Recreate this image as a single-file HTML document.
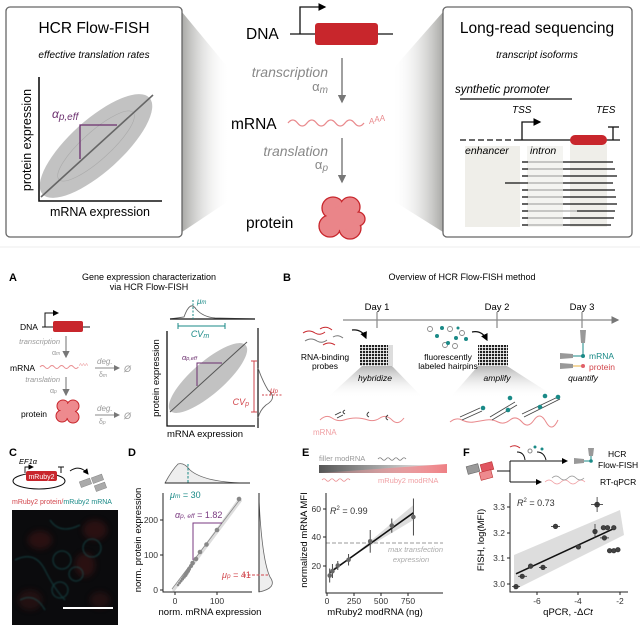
<!DOCTYPE html>
<html><head><meta charset="utf-8"><style>
html,body{margin:0;padding:0;background:#fff;}
svg{display:block;font-family:"Liberation Sans",sans-serif;}
.it{font-style:italic;}
</style></head><body>
<svg width="640" height="626" viewBox="0 0 640 626" xmlns="http://www.w3.org/2000/svg">
<defs>
<linearGradient id="wl" x1="0" x2="1" y1="0" y2="0"><stop offset="0" stop-color="#a9a9a6"/><stop offset="1" stop-color="#fff" stop-opacity="0"/></linearGradient>
<linearGradient id="wr" x1="1" x2="0" y1="0" y2="0"><stop offset="0" stop-color="#a9a9a6"/><stop offset="1" stop-color="#fff" stop-opacity="0"/></linearGradient>
<linearGradient id="wd" x1="0" x2="0" y1="0" y2="1"><stop offset="0" stop-color="#b5b5b5"/><stop offset="1" stop-color="#fff" stop-opacity="0"/></linearGradient>
<linearGradient id="gbar" x1="0" x2="1"><stop offset="0" stop-color="#555"/><stop offset="1" stop-color="#fff"/></linearGradient>
<linearGradient id="rbar" x1="0" x2="1"><stop offset="0" stop-color="#f3a6a8" stop-opacity="0.2"/><stop offset="1" stop-color="#ee7f84"/></linearGradient>
<marker id="ah" markerWidth="6" markerHeight="6" refX="5" refY="3" orient="auto"><path d="M0,0 L6,3 L0,6 z" fill="#777"/></marker>
<marker id="ak" markerWidth="6" markerHeight="6" refX="5" refY="3" orient="auto"><path d="M0,0 L6,3 L0,6 z" fill="#000"/></marker>
<pattern id="grid" width="3" height="3" patternUnits="userSpaceOnUse"><rect width="3" height="3" fill="#fff"/><rect width="2.2" height="2.2" fill="#222"/></pattern>
<filter id="bl"><feGaussianBlur stdDeviation="3"/></filter>
<filter id="bl2"><feGaussianBlur stdDeviation="0.8"/></filter>
</defs>

<polygon points="182,12 230,70 230,200 182,232" fill="url(#wl)"/>
<polygon points="443,12 392,70 392,200 443,232" fill="url(#wr)"/>

<rect x="6" y="7" width="176" height="230" rx="4" fill="#fff" stroke="#666" stroke-width="1.3"/>
<text x="94" y="33" font-size="15.5" text-anchor="middle">HCR Flow-FISH</text>
<text x="94" y="58" font-size="10" text-anchor="middle" class="it">effective translation rates</text>
<ellipse cx="96" cy="146" rx="72" ry="26" transform="rotate(-42 96 146)" fill="#c2c2c2"/>
<ellipse cx="96" cy="146" rx="50" ry="14" transform="rotate(-42 96 146)" fill="none" stroke="#aaa" stroke-width="0.6"/>
<line x1="41" y1="197" x2="153" y2="95" stroke="#666" stroke-width="1.6"/>
<polyline points="80,159 80,125 117,125" fill="none" stroke="#6b2f6e" stroke-width="1.3"/>
<text x="52" y="118" font-size="12" fill="#6b2f6e" class="it">α<tspan font-size="10" dy="2">p,eff</tspan></text>
<polyline points="39,77 39,201 162,201" fill="none" stroke="#111" stroke-width="1.6"/>
<text transform="translate(31,140) rotate(-90)" font-size="12.5" text-anchor="middle">protein expression</text>
<text x="100" y="216" font-size="12.5" text-anchor="middle">mRNA expression</text>

<text x="246" y="39" font-size="15.5">DNA</text>
<line x1="290" y1="34" x2="393" y2="34" stroke="#111" stroke-width="1.3"/>
<polyline points="300,34 300,7 325,7" fill="none" stroke="#111" stroke-width="1.3" marker-end="url(#ak)"/>
<rect x="315" y="23" width="63" height="22" rx="3" fill="#c8262c"/>
<line x1="342" y1="58" x2="342" y2="102" stroke="#777" stroke-width="1.4" marker-end="url(#ah)"/>
<text x="328" y="77" font-size="14" fill="#888" text-anchor="end" class="it">transcription</text>
<text x="328" y="91" font-size="13" fill="#888" text-anchor="end">α<tspan font-size="10" dy="2" class="it">m</tspan></text>
<text x="231" y="129" font-size="15.5">mRNA</text>
<path d="M288,123 q4.75,-6 9.5,0 t9.5,0 t9.5,0 t9.5,0 t9.5,0 t9.5,0 t9.5,0 t9.5,0" fill="none" stroke="#e98a8d" stroke-width="1.3"/>
<text x="369" y="124" font-size="8" fill="#e98a8d">A<tspan dy="-2">A</tspan><tspan dy="-1">A</tspan></text>
<line x1="342" y1="138" x2="342" y2="182" stroke="#777" stroke-width="1.4" marker-end="url(#ah)"/>
<text x="328" y="156" font-size="14" fill="#888" text-anchor="end" class="it">translation</text>
<text x="328" y="169" font-size="13" fill="#888" text-anchor="end">α<tspan font-size="10" dy="2" class="it">p</tspan></text>
<text x="246" y="228" font-size="15.5">protein</text>
<g fill="#ea8589" stroke="#c8262c" stroke-width="1.3">
<circle cx="333" cy="208" r="11"/><circle cx="350" cy="207" r="10"/><circle cx="330" cy="226" r="11"/><circle cx="350" cy="228" r="11"/><circle cx="358" cy="219" r="7"/>
</g>
<g fill="#ea8589"><circle cx="333" cy="208" r="10"/><circle cx="350" cy="207" r="9"/><circle cx="330" cy="226" r="10"/><circle cx="350" cy="228" r="10"/><circle cx="358" cy="219" r="6"/><circle cx="342" cy="218" r="12"/></g>

<rect x="443" y="7" width="189" height="230" rx="4" fill="#fff" stroke="#666" stroke-width="1.3"/>
<text x="537" y="33" font-size="15.5" text-anchor="middle">Long-read sequencing</text>
<text x="537" y="58" font-size="10" text-anchor="middle" class="it">transcript isoforms</text>
<text x="455" y="93" font-size="11.5" class="it">synthetic promoter</text>
<line x1="460" y1="99" x2="572" y2="99" stroke="#111" stroke-width="1.3"/>
<rect x="465" y="146" width="55" height="81" fill="#efeee9"/>
<rect x="527" y="146" width="36" height="81" fill="#f4f4f1"/>
<rect x="570" y="144" width="37" height="83" fill="#efeee9"/>
<text x="512" y="113" font-size="10" class="it">TSS</text>
<text x="596" y="113" font-size="10" class="it">TES</text>
<line x1="460" y1="140" x2="520" y2="140" stroke="#111" stroke-width="1.3" stroke-dasharray="6,3"/>
<line x1="520" y1="140" x2="620" y2="140" stroke="#111" stroke-width="1.3"/>
<polyline points="522,140 522,122 540,122" fill="none" stroke="#111" stroke-width="1.3" marker-end="url(#ak)"/>
<rect x="570" y="135" width="37" height="10" rx="5" fill="#c8262c"/>
<polyline points="613,140 613,127" fill="none" stroke="#111" stroke-width="1.3"/>
<line x1="608" y1="127" x2="619" y2="127" stroke="#111" stroke-width="1.3"/>
<text x="465" y="154" font-size="10.5" class="it">enhancer</text>
<text x="530" y="154" font-size="10.5" class="it">intron</text>
<g stroke-width="1.3">
<g stroke="#111"><line x1="522" y1="162" x2="528" y2="162"/><line x1="522" y1="169" x2="528" y2="169"/><line x1="522" y1="176" x2="528" y2="176"/><line x1="505" y1="183" x2="528" y2="183"/><line x1="522" y1="190" x2="528" y2="190"/><line x1="522" y1="197" x2="528" y2="197"/><line x1="522" y1="204" x2="528" y2="204"/><line x1="522" y1="211" x2="528" y2="211"/><line x1="522" y1="218" x2="528" y2="218"/><line x1="522" y1="225" x2="528" y2="225"/></g>
<g stroke="#aaa"><line x1="528" y1="162" x2="563" y2="162"/><line x1="528" y1="169" x2="563" y2="169"/><line x1="528" y1="176" x2="563" y2="176"/><line x1="528" y1="183" x2="563" y2="183"/><line x1="528" y1="190" x2="563" y2="190"/><line x1="528" y1="197" x2="563" y2="197"/><line x1="528" y1="204" x2="563" y2="204"/><line x1="528" y1="211" x2="577" y2="211"/><line x1="528" y1="218" x2="563" y2="218"/><line x1="528" y1="225" x2="563" y2="225"/></g>
<g stroke="#111"><line x1="563" y1="162" x2="613" y2="162"/><line x1="563" y1="169" x2="615" y2="169"/><line x1="563" y1="176" x2="617" y2="176"/><line x1="563" y1="183" x2="613" y2="183"/><line x1="563" y1="190" x2="615" y2="190"/><line x1="563" y1="197" x2="616" y2="197"/><line x1="563" y1="204" x2="617" y2="204"/><line x1="577" y1="211" x2="615" y2="211"/><line x1="563" y1="218" x2="614" y2="218"/><line x1="563" y1="225" x2="611" y2="225"/></g>
</g>

<line x1="0" y1="247" x2="640" y2="247" stroke="#eee" stroke-width="1"/>

<text x="9" y="281" font-size="11" font-weight="bold">A</text>
<text x="149" y="280" font-size="9" text-anchor="middle">Gene expression characterization</text>
<text x="149" y="290" font-size="9" text-anchor="middle">via HCR Flow-FISH</text>
<text x="20" y="330" font-size="8.5">DNA</text>
<line x1="42" y1="327" x2="90" y2="327" stroke="#111" stroke-width="1"/>
<polyline points="45,327 45,313 58,313" fill="none" stroke="#111" stroke-width="1" marker-end="url(#ak)"/>
<rect x="53" y="321" width="30" height="11" rx="2" fill="#c8262c"/>
<line x1="66" y1="336" x2="66" y2="357" stroke="#888" stroke-width="1.2" marker-end="url(#ah)"/>
<text x="60" y="344" font-size="7.5" fill="#999" text-anchor="end" class="it">transcription</text>
<text x="52" y="355" font-size="7" fill="#999">α<tspan font-size="5" class="it">m</tspan></text>
<text x="10" y="371" font-size="8.5">mRNA</text>
<path d="M40,367 q2.4,-3 4.8,0 t4.8,0 t4.8,0 t4.8,0 t4.8,0 t4.8,0 t4.8,0 t4.8,0" fill="none" stroke="#e98a8d" stroke-width="1"/>
<text x="79" y="366" font-size="4.5" fill="#e98a8d">AAA</text>
<text x="97" y="364" font-size="8" fill="#999" class="it">deg.</text>
<line x1="95" y1="368" x2="119" y2="368" stroke="#888" stroke-width="1" marker-end="url(#ah)"/>
<text x="124" y="372" font-size="9" fill="#999" class="it">Ø</text>
<text x="99" y="377" font-size="7" fill="#999">δ<tspan font-size="5" class="it">m</tspan></text>
<text x="60" y="382" font-size="7.5" fill="#999" text-anchor="end" class="it">translation</text>
<text x="50" y="393" font-size="7" fill="#999">α<tspan font-size="5" class="it">p</tspan></text>
<line x1="66" y1="377" x2="66" y2="395" stroke="#888" stroke-width="1.2" marker-end="url(#ah)"/>
<text x="21" y="417" font-size="8.5">protein</text>
<g fill="#ee8a8e" stroke="#c8262c" stroke-width="1"><circle cx="63" cy="406" r="6"/><circle cx="73" cy="406" r="6"/><circle cx="62" cy="416" r="6"/><circle cx="73" cy="417" r="6"/></g>
<g fill="#ee8a8e"><circle cx="63" cy="406" r="5"/><circle cx="73" cy="406" r="5"/><circle cx="62" cy="416" r="5"/><circle cx="73" cy="417" r="5"/><circle cx="68" cy="411" r="7"/></g>
<text x="97" y="411" font-size="8" fill="#999" class="it">deg.</text>
<line x1="95" y1="415" x2="119" y2="415" stroke="#888" stroke-width="1" marker-end="url(#ah)"/>
<text x="124" y="419" font-size="9" fill="#999" class="it">Ø</text>
<text x="99" y="424" font-size="7" fill="#999">δ<tspan font-size="5" class="it">p</tspan></text>
<path d="M170,319 L184,317 Q190,300 196,309 Q203,317 215,318 L255,319" fill="none" stroke="#666" stroke-width="0.9"/>
<line x1="170" y1="319" x2="255" y2="319" stroke="#111" stroke-width="1.2"/>
<line x1="193" y1="300" x2="193" y2="319" stroke="#1a8a87" stroke-width="1" stroke-dasharray="2,1.5"/>
<text x="197" y="304" font-size="8" fill="#1a8a87" class="it">μ<tspan font-size="6">m</tspan></text>
<line x1="178" y1="326" x2="225" y2="326" stroke="#1a8a87" stroke-width="1"/>
<line x1="178" y1="323" x2="178" y2="329" stroke="#1a8a87"/><line x1="225" y1="323" x2="225" y2="329" stroke="#1a8a87"/>
<text x="200" y="337" font-size="9" fill="#1a8a87" text-anchor="middle" class="it">CV<tspan font-size="7" dy="1">m</tspan></text>
<ellipse cx="208" cy="378" rx="50" ry="16" transform="rotate(-41 208 378)" fill="#c2c2c2"/>
<line x1="170" y1="412" x2="247" y2="342" stroke="#555" stroke-width="1"/>
<polyline points="197,386 197,363 222,363" fill="none" stroke="#6b2f6e" stroke-width="1"/>
<text x="182" y="360" font-size="7.5" fill="#6b2f6e" class="it">α<tspan font-size="5.5">p,eff</tspan></text>
<polyline points="167,331 167,426 255,426" fill="none" stroke="#111" stroke-width="1.3"/>
<text transform="translate(159,378) rotate(-90)" font-size="9.5" text-anchor="middle">protein expression</text>
<text x="205" y="437" font-size="9.5" text-anchor="middle">mRNA expression</text>
<line x1="258" y1="328" x2="258" y2="428" stroke="#111" stroke-width="1.2"/>
<path d="M258,368 Q262,380 268,390 Q278,398 266,405 Q260,410 258,418" fill="none" stroke="#666" stroke-width="0.9"/>
<line x1="254" y1="361" x2="254" y2="412" stroke="#d2464c" stroke-width="1"/>
<line x1="251" y1="361" x2="257" y2="361" stroke="#d2464c"/><line x1="251" y1="412" x2="257" y2="412" stroke="#d2464c"/>
<text x="249" y="405" font-size="9" fill="#d2464c" text-anchor="end" class="it">CV<tspan font-size="7" dy="1">p</tspan></text>
<line x1="262" y1="395" x2="283" y2="395" stroke="#d2464c" stroke-width="0.9" stroke-dasharray="2,1.5"/>
<text x="270" y="393" font-size="8.5" fill="#d2464c" class="it">μ<tspan font-size="6">p</tspan></text>

<text x="283" y="281" font-size="11" font-weight="bold">B</text>
<text x="462" y="280" font-size="9" text-anchor="middle">Overview of HCR Flow-FISH method</text>
<line x1="343" y1="320" x2="618" y2="320" stroke="#888" stroke-width="1.3" marker-end="url(#ah)"/>
<g stroke="#888" stroke-width="1.2"><line x1="377" y1="312" x2="377" y2="328"/><line x1="497" y1="312" x2="497" y2="328"/><line x1="582" y1="312" x2="582" y2="328"/></g>
<g font-size="9.5" text-anchor="middle"><text x="377" y="310">Day 1</text><text x="497" y="310">Day 2</text><text x="582" y="310">Day 3</text></g>
<polygon points="362,366 392,366 423,398 327,398" fill="url(#wd)"/>
<polygon points="478,366 507,366 557,398 450,398" fill="url(#wd)"/>
<g fill="none" stroke-width="1"><path d="M303,333 q6,-4 12,0 q5,3 10,-1" stroke="#c8262c"/><path d="M305,341 q6,-4 12,0 q5,3 10,-1" stroke="#777"/><path d="M320,329 q6,-4 12,1" stroke="#c8262c"/><path d="M323,345 q6,-4 12,0" stroke="#c8262c"/><path d="M333,337 q5,-3 10,1" stroke="#777"/></g>
<path d="M352,330 Q362,329 366,338" fill="none" stroke="#111" stroke-width="1.2" marker-end="url(#ak)"/>
<rect x="360" y="345" width="33" height="21" fill="#ddd"/>
<rect x="360" y="345" width="28" height="21" fill="url(#grid)"/>
<text x="325" y="360" font-size="8.5" text-anchor="middle">RNA-binding</text>
<text x="325" y="369" font-size="8.5" text-anchor="middle">probes</text>
<text x="375" y="381" font-size="8.5" text-anchor="middle" class="it">hybridize</text>
<g stroke="#888" fill="none" stroke-width="0.9"><circle cx="430" cy="329" r="2.5"/><circle cx="445" cy="345" r="2.5"/><circle cx="462" cy="333" r="2.5"/><circle cx="450" cy="329" r="2.5"/><circle cx="455" cy="346" r="2.5"/></g>
<g fill="#1a8a87"><circle cx="442" cy="328" r="2"/><circle cx="437" cy="336" r="2"/><circle cx="448" cy="343" r="2"/><circle cx="456" cy="338" r="2"/><circle cx="466" cy="339" r="2"/><circle cx="458" cy="328" r="1.5"/></g>
<path d="M472,332 Q482,330 487,340" fill="none" stroke="#111" stroke-width="1.2" marker-end="url(#ak)"/>
<rect x="478" y="345" width="30" height="21" fill="url(#grid)"/>
<text x="448" y="360" font-size="8.5" text-anchor="middle">fluorescently</text>
<text x="448" y="369" font-size="8.5" text-anchor="middle">labeled hairpins</text>
<text x="497" y="381" font-size="8.5" text-anchor="middle" class="it">amplify</text>
<path d="M580,330 L586,330 L585,343 L581,343 Z" fill="#999"/>
<line x1="583" y1="343" x2="583" y2="356" stroke="#1a8a87" stroke-width="1"/>
<path d="M560,353 L573,354 L573,358 L560,359 Z" fill="#999"/><path d="M560,363 L573,364 L573,368 L560,369 Z" fill="#999"/>
<line x1="573" y1="356" x2="583" y2="356" stroke="#1a8a87"/><line x1="573" y1="366" x2="583" y2="366" stroke="#e8b040"/>
<circle cx="583" cy="356" r="2" fill="#1a8a87"/><circle cx="583" cy="366" r="2" fill="#e0606a"/>
<text x="589" y="359" font-size="8.5" fill="#1a8a87">mRNA</text>
<text x="589" y="370" font-size="8.5" fill="#d2464c">protein</text>
<text x="583" y="381" font-size="8.5" text-anchor="middle" class="it">quantify</text>
<path d="M320,420 q6,-6 12,-2 t12,2 t12,-2 t12,2 t12,-2 t12,2 t12,-2" fill="none" stroke="#e98a8d" stroke-width="1"/>
<g fill="none" stroke="#333" stroke-width="0.9"><path d="M335,415 l6,-3 M337,418 l6,-3 M345,410 q-4,2 0,4 M369,412 q-4,3 0,5 M388,415 q-4,3 0,5"/></g>
<text x="313" y="435" font-size="8" fill="#f0a0a4">mRNA</text>
<path d="M450,422 q6,-5 12,-2 t12,2 t12,-2 t12,2 t12,-2 t12,2 t12,-2 t12,2 t12,-2" fill="none" stroke="#e98a8d" stroke-width="1"/>
<g stroke="#444" stroke-width="0.8"><line x1="460" y1="417" x2="480" y2="408"/><line x1="462" y1="420" x2="482" y2="411"/><line x1="490" y1="417" x2="515" y2="402"/><line x1="492" y1="420" x2="517" y2="405"/><line x1="522" y1="414" x2="560" y2="396"/><line x1="524" y1="417" x2="560" y2="399"/></g>
<g fill="#1a8a87"><circle cx="483" cy="408" r="2.3"/><circle cx="510" cy="398" r="2.3"/><circle cx="508" cy="410" r="2.3"/><circle cx="545" cy="396" r="2.3"/><circle cx="558" cy="397" r="2.3"/><circle cx="540" cy="407" r="2.3"/></g>

<text x="9" y="456" font-size="11" font-weight="bold">C</text>
<text x="19" y="464" font-size="7.5" class="it">EF1α</text>
<ellipse cx="39" cy="481" rx="26" ry="8" fill="none" stroke="#111" stroke-width="1"/>
<polyline points="25,473 25,467 33,467" fill="none" stroke="#111" stroke-width="0.9" marker-end="url(#ak)"/>
<rect x="26" y="471" width="31" height="10" rx="2" fill="#c8262c"/>
<text x="41.5" y="479" font-size="7" fill="#fff" text-anchor="middle">mRuby2</text>
<line x1="61" y1="473" x2="61" y2="467" stroke="#111"/><line x1="58" y1="467" x2="64" y2="467" stroke="#111"/>
<path d="M70,471 Q80,464 88,474" fill="none" stroke="#111" stroke-width="1" marker-end="url(#ak)"/>
<g fill="#aaa" stroke="#888" stroke-width="0.5"><rect x="80" y="480" width="11" height="6" transform="rotate(-20 85 483)"/><rect x="92" y="476" width="11" height="6" transform="rotate(-20 97 479)"/><rect x="95" y="484" width="11" height="6" transform="rotate(-20 100 487)"/></g>
<text x="12" y="504" font-size="7"><tspan fill="#d2464c">mRuby2 protein/</tspan><tspan fill="#1a8a87">mRuby2 mRNA</tspan></text>
<rect x="12" y="510" width="106" height="115" fill="#0b0b0d"/>
<g filter="url(#bl)" opacity="0.5">
<ellipse cx="40" cy="540" rx="12" ry="9" fill="#4a1515"/><ellipse cx="95" cy="530" rx="12" ry="10" fill="#4a1515"/><ellipse cx="85" cy="565" rx="10" ry="12" fill="#4a1818"/><ellipse cx="30" cy="600" rx="12" ry="10" fill="#3a1212"/><ellipse cx="100" cy="600" rx="10" ry="8" fill="#3a1212"/>
</g>
<g fill="none" stroke="#1a6a6a" stroke-width="1.3" opacity="0.45" filter="url(#bl2)">
<circle cx="62" cy="560" r="9"/><circle cx="76" cy="574" r="7"/><circle cx="92" cy="548" r="9"/><path d="M15,560 q20,-10 30,10 t20,30"/><path d="M50,520 q10,15 30,5"/><path d="M20,600 q15,-8 25,10"/><circle cx="60" cy="590" r="8"/>
</g>
<line x1="63" y1="608" x2="113" y2="608" stroke="#fff" stroke-width="2"/>

<text x="128" y="456" font-size="11" font-weight="bold">D</text>
<path d="M165,483 Q172,470 178,464 Q184,462 190,470 Q205,483 250,483 Z" fill="#eee" stroke="#666" stroke-width="0.8"/>
<line x1="165" y1="483" x2="250" y2="483" stroke="#222" stroke-width="1"/>
<line x1="188" y1="464" x2="188" y2="483" stroke="#1a8a87" stroke-width="1" stroke-dasharray="2.5,1.5"/>
<polygon points="172,590 240,496 242,501 174,592" fill="#ddd"/>
<line x1="172" y1="589" x2="241" y2="498" stroke="#888" stroke-width="0.8"/>
<g fill="#888"><circle cx="239" cy="499" r="2.3"/><circle cx="217" cy="530" r="2.3"/><circle cx="206.5" cy="544.5" r="2.3"/><circle cx="200" cy="552" r="2.3"/><circle cx="196" cy="559" r="2.3"/><circle cx="192.6" cy="563" r="2.3"/><circle cx="191" cy="566" r="2"/><circle cx="189" cy="569" r="2"/><circle cx="188" cy="571" r="2"/><circle cx="186.7" cy="573" r="2"/><circle cx="185.5" cy="575" r="2"/><circle cx="184" cy="577" r="1.8"/><circle cx="182.5" cy="579" r="1.6"/><circle cx="181" cy="581" r="1.5"/><circle cx="179.5" cy="583" r="1.4"/><circle cx="178" cy="585" r="1.3"/></g>
<polyline points="193,560 193,523 222,523" fill="none" stroke="#7a3a80" stroke-width="1"/>
<text x="175" y="518" font-size="9" fill="#7a3a80"><tspan class="it">α<tspan font-size="6.5">p, eff</tspan></tspan> = 1.82</text>
<text x="170" y="498" font-size="9" fill="#1a8a87"><tspan class="it">μ<tspan font-size="6.5">m</tspan></tspan> = 30</text>
<text x="222" y="578" font-size="9" fill="#d2464c"><tspan class="it">μ<tspan font-size="6.5">p</tspan></tspan> = 41</text>
<polyline points="163,493 163,592 252,592" fill="none" stroke="#222" stroke-width="1"/>
<g stroke="#222"><line x1="160" y1="590" x2="163" y2="590"/><line x1="160" y1="555" x2="163" y2="555"/><line x1="160" y1="520" x2="163" y2="520"/><line x1="175" y1="592" x2="175" y2="595"/><line x1="217" y1="592" x2="217" y2="595"/></g>
<g font-size="8.5" fill="#333" text-anchor="end"><text x="158" y="593">0</text><text x="158" y="558">100</text><text x="158" y="523">200</text></g>
<g font-size="8.5" fill="#333" text-anchor="middle"><text x="175" y="604">0</text><text x="217" y="604">100</text></g>
<text transform="translate(141,540) rotate(-90)" font-size="9.5" text-anchor="middle">norm. protein expression</text>
<text x="210" y="615" font-size="9.5" text-anchor="middle">norm. mRNA expression</text>
<path d="M259,500 Q262,560 270,577 Q278,588 259,592 Z" fill="#eee" stroke="#666" stroke-width="0.8"/>
<line x1="259" y1="493" x2="259" y2="592" stroke="#222" stroke-width="1"/>
<line x1="243" y1="575" x2="268" y2="575" stroke="#d2464c" stroke-width="1" stroke-dasharray="3,1.5"/>

<text x="302" y="456" font-size="11" font-weight="bold">E</text>
<text x="319" y="461" font-size="7.5" fill="#999">filler modRNA</text>
<path d="M378,459 q2,-2.5 4,0 t4,0 t4,0 t4,0 t4,0 t4,0 t4,0" fill="none" stroke="#777" stroke-width="0.8"/>
<rect x="319" y="465" width="128" height="8" fill="url(#gbar)"/>
<polygon points="319,473 447,464 447,473" fill="url(#rbar)"/>
<path d="M322,480 q2,-2.5 4,0 t4,0 t4,0 t4,0 t4,0 t4,0 t4,0" fill="none" stroke="#e98a8d" stroke-width="0.8"/>
<text x="378" y="483" font-size="7.5" fill="#f0a0a4">mRuby2 modRNA</text>
<polygon points="329.7,575 413.4,505 413.4,520 329.7,570" fill="#ddd"/>
<line x1="326" y1="543" x2="443" y2="543" stroke="#999" stroke-width="1" stroke-dasharray="4,2"/>
<text x="443" y="552" font-size="7.5" fill="#aaa" text-anchor="end" class="it">max transfection</text>
<text x="411" y="562" font-size="7.5" fill="#aaa" text-anchor="middle" class="it">expression</text>
<line x1="329.7" y1="572.6" x2="413.4" y2="512.8" stroke="#111" stroke-width="1.6"/>
<g stroke="#333" stroke-width="0.9">
<line x1="329.7" y1="568.5" x2="329.7" y2="582.5"/><line x1="332.4" y1="564" x2="332.4" y2="578"/><line x1="337.8" y1="561" x2="337.8" y2="570"/><line x1="348.6" y1="554" x2="348.6" y2="565.5"/><line x1="370.2" y1="530" x2="370.2" y2="552.7"/><line x1="391.8" y1="518.5" x2="391.8" y2="532.7"/><line x1="413.4" y1="498.5" x2="413.4" y2="535.5"/>
</g>
<g fill="#666"><circle cx="329.7" cy="575.5" r="2.3"/><circle cx="332.4" cy="571.2" r="2.3"/><circle cx="337.8" cy="565.5" r="2.3"/><circle cx="348.6" cy="559.8" r="2.3"/><circle cx="370.2" cy="541.3" r="2.3"/><circle cx="391.8" cy="525.6" r="2.3"/><circle cx="413.4" cy="517" r="2.3"/></g>
<polyline points="326,493 326,593 443,593" fill="none" stroke="#222" stroke-width="1"/>
<g stroke="#222"><line x1="323" y1="566" x2="326" y2="566"/><line x1="323" y1="537" x2="326" y2="537"/><line x1="323" y1="509" x2="326" y2="509"/><line x1="327" y1="593" x2="327" y2="596"/><line x1="354" y1="593" x2="354" y2="596"/><line x1="381" y1="593" x2="381" y2="596"/><line x1="408" y1="593" x2="408" y2="596"/></g>
<g font-size="8.5" fill="#333" text-anchor="end"><text x="321" y="569">20</text><text x="321" y="540">40</text><text x="321" y="512">60</text></g>
<g font-size="8.5" fill="#333" text-anchor="middle"><text x="327" y="604">0</text><text x="354" y="604">250</text><text x="381" y="604">500</text><text x="408" y="604">750</text></g>
<text x="330" y="514" font-size="9" fill="#333"><tspan class="it">R</tspan><tspan font-size="6" dy="-4">2</tspan><tspan dy="4"> = 0.99</tspan></text>
<text transform="translate(307,540) rotate(-90)" font-size="9.5" text-anchor="middle">normalized mRNA MFI</text>
<text x="375" y="615" font-size="9.5" text-anchor="middle">mRuby2 modRNA (ng)</text>

<text x="463" y="456" font-size="11" font-weight="bold">F</text>
<g stroke-width="0.6"><rect x="467" y="465" width="12" height="8" fill="#999" stroke="#666" transform="rotate(-15 473 469)"/><rect x="481" y="463" width="12" height="8" fill="#e05560" stroke="#b33" transform="rotate(-15 487 467)"/><rect x="480" y="471" width="12" height="8" fill="#ee8a8e" stroke="#b33" transform="rotate(-15 486 475)"/></g>
<line x1="497" y1="471" x2="510" y2="471" stroke="#111" stroke-width="1"/>
<line x1="510" y1="461" x2="510" y2="482" stroke="#111" stroke-width="1"/>
<line x1="510" y1="461" x2="567" y2="461" stroke="#111" stroke-width="1" marker-end="url(#ak)"/>
<line x1="510" y1="482" x2="541" y2="482" stroke="#111" stroke-width="1" marker-end="url(#ak)"/>
<path d="M510,447 q5,-3 10,1" fill="none" stroke="#c8262c"/><path d="M517,452 Q524,452 525,460" fill="none" stroke="#111"/>
<circle cx="530" cy="451" r="2" fill="none" stroke="#888"/><circle cx="535" cy="447" r="1.5" fill="#1a8a87"/><circle cx="542" cy="449" r="1.5" fill="#1a8a87"/>
<path d="M537,452 Q544,452 546,460" fill="none" stroke="#111"/>
<path d="M588,448 L594,448 L593,456 L589,456 Z" fill="#999"/><path d="M574,458 L584,459 L584,463 L574,464 Z" fill="#999"/><line x1="584" y1="461" x2="591" y2="461" stroke="#1a8a87"/><line x1="591" y1="456" x2="591" y2="461" stroke="#1a8a87"/><circle cx="591" cy="461" r="1.8" fill="#1a8a87"/>
<text x="608" y="457" font-size="8.5">HCR</text>
<text x="598" y="468" font-size="8.5">Flow-FISH</text>
<text x="600" y="485" font-size="8.5">RT-qPCR</text>
<path d="M545,482 q4,-4 8,0 t8,0 t8,0 t8,0 t8,0" fill="none" stroke="#f0a0a4" stroke-width="0.8"/>
<path d="M552,478 q4,-4 8,0 t8,0 t8,0 t8,0" fill="none" stroke="#999" stroke-width="0.8"/>
<polygon points="514,555 620,510 624,535 514,590" fill="#ddd"/>
<line x1="516" y1="573.8" x2="615.8" y2="527.7" stroke="#111" stroke-width="1.6"/>
<g fill="#444" stroke="#333" stroke-width="0.8">
<circle cx="516" cy="586.6" r="2.2"/><circle cx="522.2" cy="576.3" r="2.2"/><circle cx="530.6" cy="566.1" r="2.2"/><circle cx="543" cy="567.4" r="2.2"/><circle cx="555.5" cy="526.4" r="2.2"/><circle cx="578.4" cy="546.9" r="2.2"/><circle cx="597.1" cy="504.6" r="2.4"/><circle cx="595" cy="531.5" r="2.2"/><circle cx="603.4" cy="527.7" r="2.2"/><circle cx="604.4" cy="537.9" r="2.2"/><circle cx="607.5" cy="527.7" r="2.2"/><circle cx="613.8" cy="527.7" r="2.2"/><circle cx="609.6" cy="550.7" r="2.2"/><circle cx="613.8" cy="550.7" r="2.2"/><circle cx="617.9" cy="549.7" r="2.2"/>
<line x1="512" y1="586.6" x2="520" y2="586.6"/><line x1="518" y1="576.3" x2="527" y2="576.3"/><line x1="539" y1="567.4" x2="547" y2="567.4"/><line x1="551" y1="526.4" x2="560" y2="526.4"/><line x1="591" y1="504.6" x2="603" y2="504.6"/><line x1="597.1" y1="497" x2="597.1" y2="512"/><line x1="595" y1="524" x2="595" y2="538"/><line x1="600" y1="537.9" x2="609" y2="537.9"/>
</g>
<polyline points="510,493 510,592 628,592" fill="none" stroke="#222" stroke-width="1"/>
<g stroke="#222"><line x1="507" y1="584" x2="510" y2="584"/><line x1="507" y1="558" x2="510" y2="558"/><line x1="507" y1="533" x2="510" y2="533"/><line x1="507" y1="507" x2="510" y2="507"/><line x1="537" y1="592" x2="537" y2="595"/><line x1="578" y1="592" x2="578" y2="595"/><line x1="620" y1="592" x2="620" y2="595"/></g>
<g font-size="8.5" fill="#333" text-anchor="end"><text x="505" y="587">3.0</text><text x="505" y="561">3.1</text><text x="505" y="536">3.2</text><text x="505" y="510">3.3</text></g>
<g font-size="8.5" fill="#333" text-anchor="middle"><text x="537" y="604">-6</text><text x="578" y="604">-4</text><text x="620" y="604">-2</text></g>
<text x="517" y="506" font-size="9" fill="#333"><tspan class="it">R</tspan><tspan font-size="6" dy="-4">2</tspan><tspan dy="4"> = 0.73</tspan></text>
<text transform="translate(484,540) rotate(-90)" font-size="9.5" text-anchor="middle">FISH, log(MFI)</text>
<text x="568" y="615" font-size="9.5" text-anchor="middle">qPCR, -Δ<tspan class="it">Ct</tspan></text>
</svg>
</body></html>
